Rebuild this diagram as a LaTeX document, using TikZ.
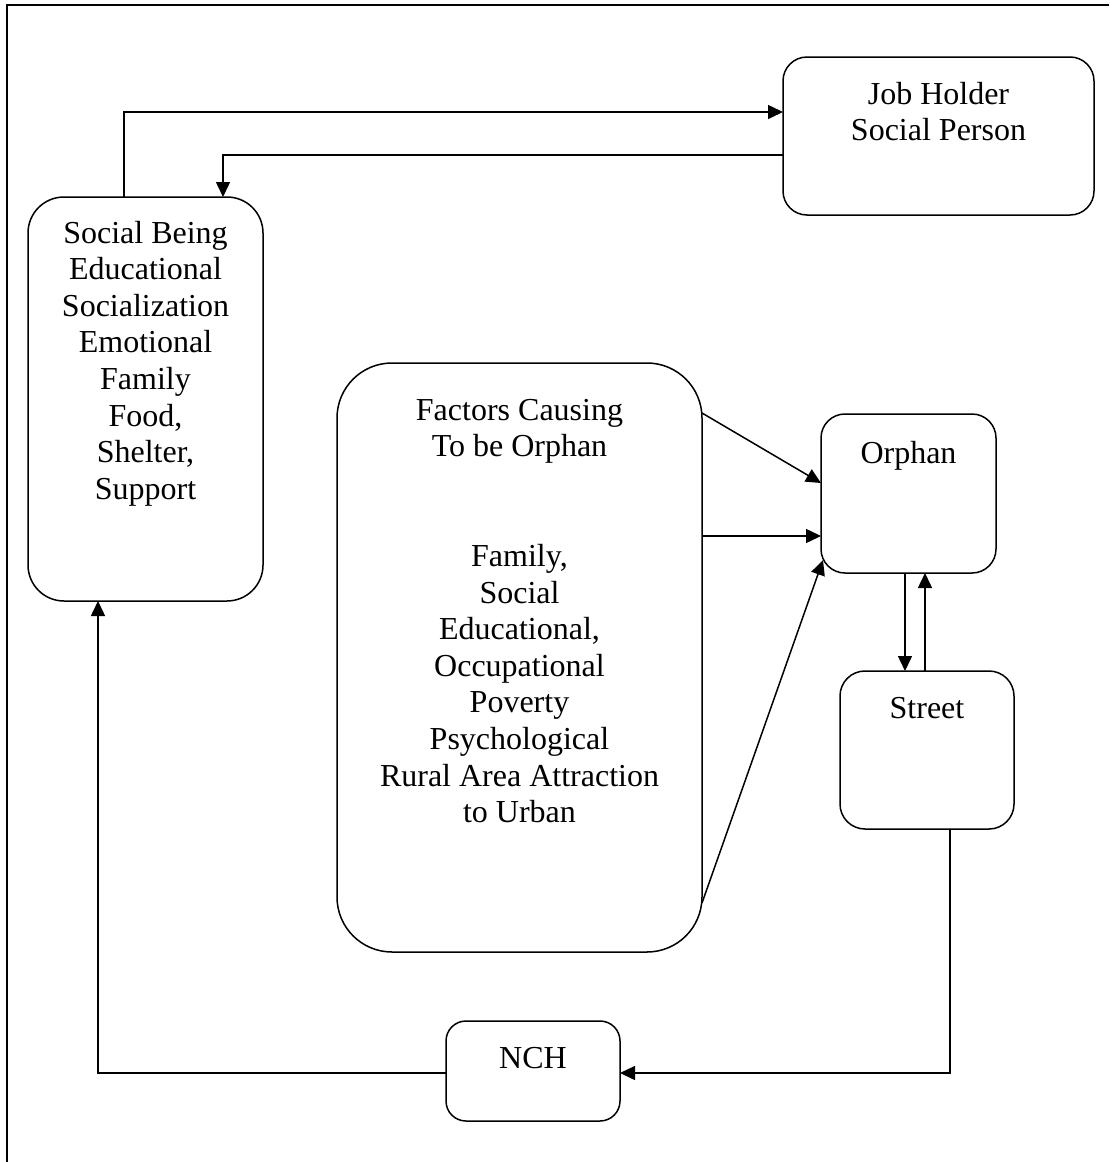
\documentclass[tikz,border=0pt]{standalone}
\usepackage{fontspec}
\setmainfont{Liberation Serif}
\usetikzlibrary{arrows.meta}
\newcommand{\boxtext}[4]{\parbox[c][#2pt][t]{#1pt}{\centering\rule{0pt}{#3pt}#4\par}}
\tikzset{
  box/.style={draw, line width=1.5pt, inner sep=0pt, outer sep=0pt,
              font=\fontsize{32}{36.6}\selectfont},
  arr/.style={line width=1.5pt, -{Triangle[length=15pt,width=14pt]}},
  ln/.style={line width=1.5pt},
}
\begin{document}
\begin{tikzpicture}[x=1pt,y=-1pt]
\useasboundingbox (0,0) rectangle (1109,1162);
% frame
\draw[ln] (7,1162) -- (7,5) -- (1109,5);
% boxes
\node[box, rounded corners=24pt] (job) at (938.5,136)
  {\boxtext{311}{158}{47}{Job Holder\\Social Person}};
\node[box, rounded corners=36pt] (social) at (145.5,399)
  {\boxtext{235}{404}{46}{Social Being\\Educational\\Socialization\\Emotional\\Family\\Food,\\Shelter,\\Support}};
\node[box, rounded corners=55pt] (factors) at (519.5,657.5)
  {\boxtext{365}{589}{57}{Factors Causing\\To be Orphan\\[73.2pt]Family,\\Social\\Educational,\\Occupational\\Poverty\\Psychological\\Rural Area Attraction\\to Urban}};
\node[box, rounded corners=24pt] (orphan) at (908.5,493.5)
  {\boxtext{175}{159}{49}{Orphan}};
\node[box, rounded corners=25pt] (street) at (927,750)
  {\boxtext{174}{158}{47}{Street}};
\node[box, rounded corners=20pt] (nch) at (533,1071)
  {\boxtext{174}{100}{47}{NCH}};
% connectors
\draw[arr] ([xshift=-21.5pt]social.north) |- ([yshift=24pt]job.west);
\draw[arr] ([yshift=-19pt]job.west) -| ([xshift=77.5pt]social.north);
\draw[arr] ([yshift=-50pt]factors.north east) -- ([yshift=10.5pt]orphan.west);
\draw[arr] ([yshift=121.5pt]factors.east) -- ([yshift=-42.5pt]orphan.west);
\draw[arr] ([yshift=49pt]factors.south east) -- ([xshift=2pt,yshift=13pt]orphan.south west);
\draw[arr] ([xshift=-3.5pt]orphan.south) -- ([xshift=-3.5pt]orphan.south |- street.north);
\draw[arr] ([xshift=-2pt]street.north) -- ([xshift=-2pt]street.north |- orphan.south);
\draw[arr] ([xshift=23pt]street.south) |- ([yshift=-2pt]nch.east);
\draw[arr] ([yshift=-2pt]nch.west) -| ([xshift=-47.5pt]social.south);
\end{tikzpicture}
\end{document}
